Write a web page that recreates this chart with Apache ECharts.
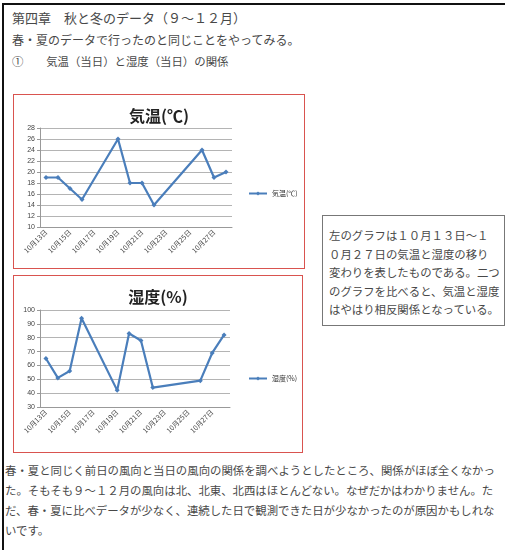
<!DOCTYPE html>
<html>
<head>
<meta charset="utf-8">
<script src="https://cdn.jsdelivr.net/npm/echarts@6/dist/echarts.min.js"></script>
<style>
  body {
    margin: 0;
    width: 505px;
    height: 550px;
    position: relative;
    overflow: hidden;
    background: #fff;
    font-family: "Noto Sans CJK JP", sans-serif;
    color: #484848;
  }
  .frame-left { position: absolute; left: 2px; top: 3px; width: 2px; height: 547px; background: #111; }
  .frame-top { position: absolute; left: 2px; top: 3px; width: 503px; height: 2px; background: #111; }
  .txt { position: absolute; white-space: nowrap; line-height: 1; }
  .chart-box { position: absolute; border: 1px solid #d9534f; background: #fff; }
  .note-box {
    position: absolute; left: 322px; top: 215px; width: 183px; height: 111px;
    border: 1px solid #777; box-sizing: border-box;
    padding: 10px 0 0 6px; font-size: 11.4px; line-height: 18.6px;
  }
  .bottom-text { position: absolute; left: 5px; top: 460px; font-size: 11.4px; line-height: 20px; white-space: pre; }
</style>
</head>
<body>
<div class="frame-left"></div>
<div class="frame-top"></div>

<div class="txt" style="left:12px; top:11px; font-size:13px;">第四章　秋と冬のデータ（９～１２月）</div>
<div class="txt" style="left:12px; top:34px; font-size:12px;">春・夏のデータで行ったのと同じことをやってみる。</div>
<div class="txt" style="left:12px; top:56px; font-size:11.4px;">①　　気温（当日）と湿度（当日）の関係</div>

<div class="chart-box" id="temp-chart" style="left:13px; top:94px; width:290px; height:173px;"></div>
<div class="chart-box" id="humid-chart" style="left:13px; top:275px; width:288px; height:176px;"></div>

<div class="note-box">左のグラフは１０月１３日～１<br>０月２７日の気温と湿度の移り<br>変わりを表したものである。二つ<br>のグラフを比べると、気温と湿度<br>はやはり相反関係となっている。</div>

<div class="bottom-text">春・夏と同じく前日の風向と当日の風向の関係を調べようとしたところ、関係がほぼ全くなかっ
た。そもそも９～１２月の風向は北、北東、北西はほとんどない。なぜだかはわかりません。た
だ、春・夏に比べデータが少なく、連続した日で観測できた日が少なかったのが原因かもしれな
いです。</div>

<script>
// x軸: 10月13日〜10月28日 (日付軸を再現するため全日付をカテゴリに)
const dayLabels = ['10月13日', '10月14日', '10月15日', '10月16日', '10月17日', '10月18日',
  '10月19日', '10月20日', '10月21日', '10月22日', '10月23日', '10月24日',
  '10月25日', '10月26日', '10月27日', '10月28日'];

// 観測日 (dayLabels のインデックス)
const obsDays = [0, 1, 2, 3, 6, 7, 8, 9, 13, 14, 15];

// 気温(℃)
const tempValues = [19, 19, 17, 15, 26, 18, 18, 14, 24, 19, 20];

// 湿度(%)
const humidValues = [65, 51, 56, 94, 42, 83, 78, 44, 49, 69, 82];

const lineColor = '#4a7ebb';

const makeChart = (id, title, seriesName, values, yMin, yMax, yStep, grid, legendTop) => {
  const chart = echarts.init(document.getElementById(id));
  const data = obsDays.map((d, i) => [d, values[i]]);

  chart.setOption({
    animation: false,
    title: {
      text: title,
      left: 'center',
      top: 8,
      textStyle: { fontSize: 16, fontWeight: 'bold', color: '#222', fontFamily: 'Noto Sans CJK JP' }
    },
    legend: {
      left: 229,
      top: legendTop,
      itemWidth: 18,
      itemHeight: 5,
      itemGap: 2,
      textStyle: { fontSize: 7, color: '#333', fontFamily: 'Noto Sans CJK JP' },
      data: [seriesName]
    },
    grid: grid,
    xAxis: {
      type: 'category',
      data: dayLabels,
      boundaryGap: true,
      axisLine: { lineStyle: { color: '#999' } },
      axisTick: { interval: 1, length: 3, lineStyle: { color: '#999' } },
      axisLabel: {
        interval: 1,
        rotate: 45,
        fontSize: 7,
        color: '#444',
        margin: 4,
        fontFamily: 'Noto Sans CJK JP'
      }
    },
    yAxis: {
      type: 'value',
      min: yMin,
      max: yMax,
      interval: yStep,
      axisLine: { show: true, lineStyle: { color: '#999' } },
      axisTick: { show: true, length: 3, lineStyle: { color: '#999' } },
      axisLabel: { fontSize: 7, color: '#444', margin: 5 },
      splitLine: { lineStyle: { color: '#b4b4b4' } }
    },
    series: [
      {
        name: seriesName,
        type: 'line',
        data: data,
        symbol: 'diamond',
        symbolSize: 5,
        itemStyle: { color: lineColor },
        lineStyle: { width: 2.2, color: lineColor }
      }
    ]
  });
  return chart;
};

makeChart('temp-chart', '気温(℃)', '気温(℃)', tempValues, 10, 28, 2,
  { left: 26, top: 33, width: 192, height: 99 }, 90);
makeChart('humid-chart', '湿度(%)', '湿度(%)', humidValues, 30, 100, 10,
  { left: 26, top: 34, width: 190, height: 97 }, 94);
</script>
</body>
</html>
